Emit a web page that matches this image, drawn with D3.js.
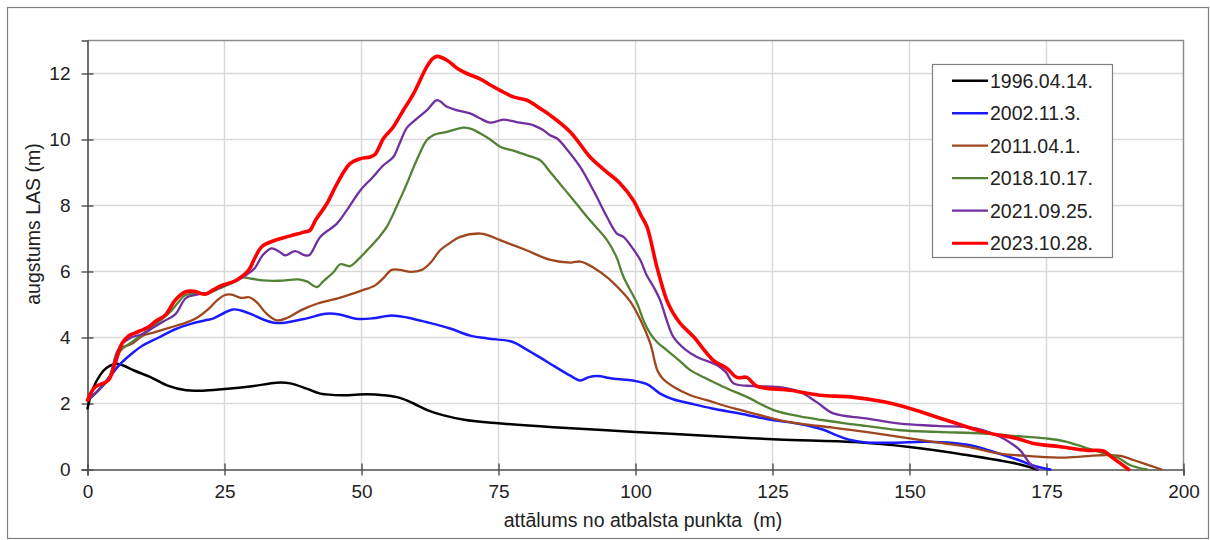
<!DOCTYPE html>
<html>
<head>
<meta charset="utf-8">
<script src="https://cdn.jsdelivr.net/npm/d3@7"></script>
<style>
  html, body { margin: 0; padding: 0; background: #fff; }
  svg { display: block; font-family: "Liberation Sans", Arial, sans-serif; }
</style>
</head>
<body>
<svg id="chart" width="1210" height="540"></svg>
<script>
// Shore profile series: distance from the reference point (m) and LAS height (m)
const seriesNames = ["1996.04.14.", "2002.11.3.", "2011.04.1.", "2018.10.17.", "2021.09.25.", "2023.10.28."];
const seriesColors = ["#000000", "#1a1aff", "#a0461e", "#548235", "#7030a0", "#ff0000"];
const seriesWidths = [2.5, 2.5, 2.3, 2.3, 2.3, 3.6];

const dist1996 = [0, 1, 2.3, 3.5, 5, 6.5, 8.5, 11.5, 14.5, 18, 21, 24.5, 30, 34.5, 37, 40, 42.5, 46.5, 51, 54, 57, 59.5, 62, 65, 69, 75, 85, 100, 112, 126, 140, 150, 160, 170, 173.3];
const h1996 = [1.85, 2.45, 2.86, 3.08, 3.2, 3.15, 3.0, 2.8, 2.55, 2.4, 2.39, 2.43, 2.52, 2.63, 2.61, 2.45, 2.3, 2.25, 2.28, 2.25, 2.17, 2.0, 1.8, 1.64, 1.5, 1.4, 1.28, 1.14, 1.03, 0.91, 0.83, 0.68, 0.45, 0.16, 0];

const dist2002 = [0, 2, 4, 6, 8, 10, 13, 16, 19, 21.5, 23, 25, 26.5, 28, 30, 32, 34, 36, 40, 43.5, 46, 49, 52, 55.5, 58.5, 62, 66, 70, 73, 77.5, 80, 84, 88, 89.9, 91.5, 93, 96, 99.5, 101.5, 102.5, 104.5, 107, 110, 114, 119, 125, 130, 134, 136.5, 139, 142, 147, 153, 158, 162, 166, 170, 173, 175.7];
const h2002 = [2.1, 2.4, 2.8, 3.2, 3.5, 3.75, 4.0, 4.25, 4.42, 4.52, 4.58, 4.75, 4.85, 4.82, 4.7, 4.55, 4.45, 4.45, 4.58, 4.72, 4.7, 4.57, 4.58, 4.67, 4.6, 4.46, 4.28, 4.05, 3.97, 3.87, 3.65, 3.25, 2.85, 2.7, 2.8, 2.83, 2.75, 2.7, 2.62, 2.55, 2.3, 2.12, 2.0, 1.85, 1.7, 1.5, 1.38, 1.22, 1.05, 0.9, 0.82, 0.81, 0.84, 0.8, 0.7, 0.5, 0.28, 0.1, 0];

const dist2011 = [0, 2, 4, 5.7, 8, 10, 12, 15, 18, 20, 22, 23.5, 25, 26.3, 28, 29.5, 31, 32.5, 34.5, 36.5, 39, 42, 46, 50, 52.5, 54, 55.5, 57, 59, 61, 62.5, 64.4, 66, 68, 71.7, 73, 75.3, 80, 84.5, 88.1, 90, 92.5, 95, 97.8, 99, 101, 102.7, 104, 105, 107, 110, 113, 118, 122, 126.4, 130, 136, 142, 150, 155, 160.5, 166.5, 172.5, 178.5, 184.5, 188.5, 191, 196];
const h2011 = [2.1, 2.4, 2.8, 3.65, 3.8, 4.05, 4.15, 4.3, 4.45, 4.6, 4.85, 5.1, 5.28, 5.3, 5.2, 5.22, 5.05, 4.75, 4.52, 4.6, 4.83, 5.03, 5.2, 5.42, 5.58, 5.8, 6.05, 6.05, 5.99, 6.05, 6.25, 6.65, 6.85, 7.05, 7.15, 7.1, 6.95, 6.65, 6.35, 6.27, 6.3, 6.1, 5.8, 5.34, 5.1, 4.5, 3.82, 3.0, 2.75, 2.5, 2.25, 2.1, 1.85, 1.68, 1.49, 1.39, 1.27, 1.14, 0.94, 0.82, 0.69, 0.48, 0.4, 0.36, 0.43, 0.41, 0.28, 0];

const dist2018 = [0, 2, 4, 6, 8, 10, 12, 14.8, 16.5, 17.8, 20, 22, 24, 26, 28.2, 30, 32, 35, 38.5, 40, 41.9, 43, 45, 46.1, 47.9, 49, 51, 53, 54.6, 56.5, 58.3, 60, 61.9, 63.1, 65.6, 68.6, 70, 71.7, 73.5, 75.3, 78, 80.2, 82.6, 84.4, 86.5, 88.7, 91.7, 94.8, 96.5, 97.8, 100.3, 101.5, 102.7, 104, 105.7, 108, 110, 113, 116.1, 120.3, 125.2, 130, 134, 138.6, 143, 148.3, 155, 163.5, 169, 175, 178.7, 183.6, 187.8, 190.3, 193.3];
const h2018 = [2.1, 2.4, 2.8, 3.6, 3.85, 4.1, 4.35, 4.73, 5.05, 5.28, 5.33, 5.35, 5.48, 5.62, 5.82, 5.78, 5.73, 5.72, 5.76, 5.7, 5.53, 5.7, 6.0, 6.22, 6.16, 6.3, 6.64, 7.0, 7.35, 8.0, 8.67, 9.35, 9.98, 10.13, 10.23, 10.36, 10.32, 10.18, 10.0, 9.78, 9.65, 9.52, 9.37, 9.02, 8.6, 8.16, 7.55, 6.95, 6.45, 5.84, 5.03, 4.5, 4.12, 3.85, 3.62, 3.3, 3.01, 2.75, 2.5, 2.2, 1.8, 1.61, 1.5, 1.39, 1.3, 1.19, 1.14, 1.09, 1.02, 0.94, 0.84, 0.58, 0.38, 0.13, 0];

const dist2021 = [0, 2, 4, 6, 8, 10, 12, 14, 16, 18, 20, 22, 24.5, 27, 29, 30.5, 32, 33.6, 35, 36.1, 37.9, 39.7, 40.5, 42.5, 45.5, 47.5, 49.8, 52, 54, 55.8, 57, 58.3, 60.1, 62, 63.8, 65.6, 67.5, 69.8, 71.5, 73.5, 75.9, 78.5, 81.4, 83, 84.4, 85.7, 87.5, 89.9, 92.5, 94.8, 96.6, 97.8, 99.5, 100.9, 102, 103.3, 104.5, 105.7, 106.9, 109, 111.2, 114.9, 116.5, 117.9, 121.5, 126, 130, 133, 136.1, 142, 148.3, 155, 162.3, 166.5, 168.5, 170.2, 172, 173.5];
const h2021 = [2.1, 2.4, 2.8, 3.75, 4.0, 4.1, 4.3, 4.5, 4.7, 5.2, 5.3, 5.35, 5.55, 5.7, 5.9, 6.1, 6.5, 6.7, 6.6, 6.49, 6.62, 6.49, 6.5, 7.05, 7.45, 7.9, 8.46, 8.85, 9.22, 9.47, 9.9, 10.36, 10.63, 10.9, 11.19, 10.99, 10.88, 10.79, 10.65, 10.51, 10.6, 10.52, 10.43, 10.3, 10.13, 10.03, 9.7, 9.17, 8.4, 7.65, 7.15, 7.05, 6.7, 6.34, 5.9, 5.53, 5.13, 4.52, 4.02, 3.65, 3.41, 3.16, 2.95, 2.61, 2.53, 2.5, 2.35, 2.05, 1.7, 1.55, 1.39, 1.32, 1.24, 0.99, 0.8, 0.58, 0.18, 0];

const dist2023 = [0, 1.4, 3.8, 5, 6.3, 7.5, 8.7, 11.1, 12.5, 14.2, 16, 17.8, 19.5, 21.5, 23, 24.5, 27, 29.4, 30.5, 31.8, 34.3, 37, 39.7, 40.6, 41.6, 43.7, 45.5, 47.9, 49.8, 51.6, 52.5, 54, 55.8, 57.5, 59.5, 61.9, 63, 63.8, 65.6, 67.5, 69.2, 71.7, 73.5, 75.3, 77.7, 80.2, 82.6, 84.4, 88.1, 91.7, 94.5, 97.2, 99.6, 101, 102.1, 103.9, 105.7, 106.9, 108.2, 110.6, 114.2, 116.7, 118.5, 120.3, 122.2, 128.2, 133.7, 139.2, 145.3, 150.1, 156.8, 163.5, 169.6, 172.6, 177.5, 182.4, 185.4, 186.9, 190];
const h2023 = [2.1, 2.5, 2.7, 3.2, 3.82, 4.05, 4.14, 4.32, 4.5, 4.68, 5.13, 5.38, 5.4, 5.31, 5.45, 5.58, 5.72, 6.04, 6.4, 6.75, 6.95, 7.08, 7.2, 7.25, 7.55, 8.06, 8.65, 9.27, 9.42, 9.47, 9.55, 10.03, 10.38, 10.85, 11.39, 12.2, 12.45, 12.52, 12.4, 12.15, 12.0, 11.83, 11.65, 11.49, 11.29, 11.19, 10.94, 10.74, 10.23, 9.47, 9.05, 8.67, 8.16, 7.7, 7.35, 6.14, 5.13, 4.73, 4.42, 4.02, 3.31, 3.06, 2.79, 2.79, 2.52, 2.4, 2.25, 2.2, 2.05, 1.85, 1.49, 1.14, 0.94, 0.79, 0.69, 0.58, 0.56, 0.38, 0];

const xTicks = [0, 25, 50, 75, 100, 125, 150, 175, 200];
const yTicks = [0, 2, 4, 6, 8, 10, 12];

const xTitle = "attālums no atbalsta punkta  (m)";
const yTitle = "augstums LAS (m)";

const distances = [dist1996, dist2002, dist2011, dist2018, dist2021, dist2023];
const heights = [h1996, h2002, h2011, h2018, h2021, h2023];

const series = seriesNames.map((name, i) => ({
  name,
  color: seriesColors[i],
  width: seriesWidths[i],
  points: distances[i].map((d, j) => ({ x: d, y: heights[i][j] }))
}));

const svg = d3.select("#chart");
const textColor = "#222222";

// outer frame
svg.append("rect")
  .attr("x", 7.5).attr("y", 7.5)
  .attr("width", 1201).attr("height", 531)
  .attr("fill", "#fff").attr("stroke", "#7f7f7f").attr("stroke-width", 1.2);

const plot = { left: 87.5, top: 40.5, right: 1183.5, bottom: 469.5 };

const x = d3.scaleLinear().domain([0, 200]).range([plot.left, plot.right]);
const y = d3.scaleLinear().domain([0, 13]).range([plot.bottom, plot.top]);

// grid
const grid = svg.append("g").attr("stroke", "#d9d9d9").attr("stroke-width", 1.5);
grid.selectAll("line.v").data(xTicks.slice(1, -1)).join("line")
  .attr("x1", d => x(d)).attr("x2", d => x(d))
  .attr("y1", plot.top).attr("y2", plot.bottom);
grid.selectAll("line.h").data(yTicks.slice(1)).join("line")
  .attr("x1", plot.left).attr("x2", plot.right)
  .attr("y1", d => y(d)).attr("y2", d => y(d));

// top and right border of the plot area
svg.append("path")
  .attr("d", `M${plot.left},${plot.top}H${plot.right}V${plot.bottom}`)
  .attr("fill", "none").attr("stroke", "#8c8c8c").attr("stroke-width", 1.5);

// axes
const yAxis = svg.append("g")
  .attr("transform", `translate(${plot.left},0)`)
  .call(d3.axisLeft(y).tickValues(yTicks).tickSize(6).tickPadding(11).tickFormat(d3.format("d")));
yAxis.selectAll(".tick line").attr("x1", 6);

const xAxis = svg.append("g")
  .attr("transform", `translate(0,${plot.bottom})`)
  .call(d3.axisBottom(x).tickValues(xTicks).tickSize(6).tickPadding(9).tickFormat(d3.format("d")));
xAxis.selectAll(".tick line").attr("y1", -6);

[yAxis, xAxis].forEach(g => {
  g.select(".domain").attr("stroke", "#4d4d4d").attr("stroke-width", 1.6);
  g.selectAll(".tick line").attr("stroke", "#4d4d4d").attr("stroke-width", 1.4);
  g.selectAll(".tick text")
    .attr("fill", textColor)
    .style("font-size", "19px")
    .style("font-family", "'Liberation Sans', Arial, sans-serif");
});

// axis titles
svg.append("text")
  .attr("x", 643).attr("y", 527)
  .attr("text-anchor", "middle")
  .style("white-space", "pre")
  .attr("fill", textColor).style("font-size", "19.5px")
  .text(xTitle);

svg.append("text")
  .attr("transform", "translate(40,224) rotate(-90)")
  .attr("text-anchor", "middle")
  .attr("fill", textColor).style("font-size", "19.5px")
  .text(yTitle);

// profile lines
const line = d3.line()
  .x(d => x(d.x))
  .y(d => y(d.y))
  .curve(d3.curveCatmullRom.alpha(0.5));

svg.append("g").selectAll("path").data(series).join("path")
  .attr("d", d => line(d.points))
  .attr("fill", "none")
  .attr("stroke", d => d.color)
  .attr("stroke-width", d => d.width)
  .attr("stroke-linejoin", "round")
  .attr("stroke-linecap", "round");

// legend
const legend = svg.append("g");
legend.append("rect")
  .attr("x", 932.5).attr("y", 64.5)
  .attr("width", 180).attr("height", 193)
  .attr("fill", "#fff").attr("stroke", "#7f7f7f").attr("stroke-width", 1.2);

const rows = legend.selectAll("g.row").data(series).join("g")
  .attr("transform", (d, i) => `translate(0,${80.7 + i * 32.5})`);
rows.append("line")
  .attr("x1", 952).attr("x2", 988)
  .attr("stroke", d => d.color)
  .attr("stroke-width", d => Math.min(d.width, 3));
rows.append("text")
  .attr("x", 990).attr("y", 7)
  .attr("fill", textColor).style("font-size", "19.5px")
  .text(d => d.name);
</script>
</body>
</html>
